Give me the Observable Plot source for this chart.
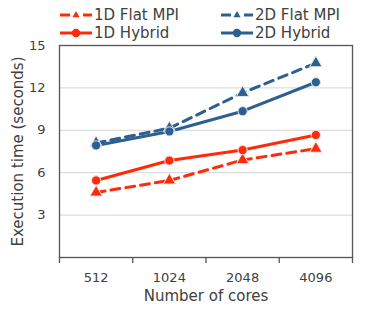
<!DOCTYPE html>
<html><head><meta charset="utf-8">
<script src="https://cdn.jsdelivr.net/npm/d3@7"></script>
<script src="https://cdn.jsdelivr.net/npm/@observablehq/plot@0.6"></script>
<style>
body{margin:0;background:#fff;font-family:"DejaVu Sans",sans-serif;}
#legend{position:relative;height:38px;width:366px;}
.item{position:absolute;display:flex;align-items:center;font-size:15px;color:#404040;height:18px;}
.item svg{margin-right:1px;}
</style></head><body>
<div id="legend"></div>
<div id="chart"></div>
<script>
const cores = ["512", "1024", "2048", "4096"];
const flat1D = [4.6, 5.45, 6.9, 7.7];
const hybrid1D = [5.45, 6.86, 7.6, 8.67];
const flat2D = [8.1, 9.15, 11.65, 13.75];
const hybrid2D = [7.93, 8.92, 10.35, 12.4];
const yTicks = [3, 6, 9, 12, 15];

const RED = "#ff2a0a", BLUE = "#2c5f92";
const series = [
  {name: "1D Flat MPI", values: flat1D, color: RED, dash: "9,6", symbol: "triangle"},
  {name: "1D Hybrid", values: hybrid1D, color: RED, dash: null, symbol: "circle"},
  {name: "2D Flat MPI", values: flat2D, color: BLUE, dash: "9,6", symbol: "triangle"},
  {name: "2D Hybrid", values: hybrid2D, color: BLUE, dash: null, symbol: "circle"}
];

// legend
const legend = document.getElementById("legend");
const legendPos = [[60, 6], [60, 24], [221, 6], [221, 24]];
series.forEach((s, k) => {
  const div = document.createElement("div");
  div.className = "item";
  div.style.left = legendPos[k][0] + "px";
  div.style.top = legendPos[k][1] + "px";
  const marker = s.symbol === "circle"
    ? `<circle cx="16" cy="9" r="4.2" fill="${s.color}"/>`
    : `<path d="M16,5 L19.6,11.3 L12.4,11.3 Z" fill="${s.color}"/>`;
  const line = s.dash
    ? `<line x1="0" y1="9" x2="10" y2="9" stroke="${s.color}" stroke-width="3"/><line x1="23" y1="9" x2="32" y2="9" stroke="${s.color}" stroke-width="3"/>`
    : `<line x1="0" y1="9" x2="32" y2="9" stroke="${s.color}" stroke-width="3"/>`;
  div.innerHTML = `<svg width="33" height="18">${line}${marker}</svg><span>${s.name}</span>`;
  legend.appendChild(div);
});

const rows = series.flatMap(s => s.values.map((v, i) => ({name: s.name, x: i + 0.5, y: v})));

const lineMarks = series.map(s => Plot.line(rows.filter(r => r.name === s.name), {
  x: "x", y: "y", stroke: s.color, strokeWidth: 3, strokeDasharray: s.dash || undefined
}));
const dotMarks = series.map(s => Plot.dot(rows.filter(r => r.name === s.name), {
  x: "x", y: "y", fill: s.color, symbol: s.symbol, r: 4.6,
  stroke: "#e8e8e8", strokeWidth: 1
}));

const chart = Plot.plot({
  width: 366, height: 272,
  marginTop: 7, marginBottom: 53, marginLeft: 59, marginRight: 14,
  style: {fontFamily: "DejaVu Sans, sans-serif", fontSize: "13px", color: "#404040", background: "#fff"},
  x: {domain: [0, 4], axis: null},
  y: {domain: [0, 15], axis: null},
  marks: [
    Plot.gridY([3, 6, 9, 12], {stroke: "#d4d4d4", strokeOpacity: 1, strokeWidth: 1}),
    Plot.axisX([0, 1, 2, 3, 4], {tickSize: 6, tickFormat: () => "", stroke: "#555", strokeWidth: 1.3, label: null}),
    Plot.axisX([0.5, 1.5, 2.5, 3.5], {tickSize: 0, tickPadding: 15, tickFormat: d => cores[Math.floor(d)], label: null, fill: "#404040", fontSize: 13}),
    Plot.axisY(yTicks, {tickSize: 0, tickPadding: 14, label: null, fill: "#404040", fontSize: 13}),
    Plot.text(["Number of cores"], {frameAnchor: "bottom", dy: 43, fontSize: 15, fill: "#404040"}),
    Plot.text(["Execution time (seconds)"], {frameAnchor: "left", textAnchor: "middle", rotate: -90, dx: -41, fontSize: 15, fill: "#404040"}),
    ...lineMarks,
    ...dotMarks,
    Plot.frame({stroke: "#555", strokeWidth: 1.3})
  ]
});
document.getElementById("chart").appendChild(chart);
</script>
</body></html>
